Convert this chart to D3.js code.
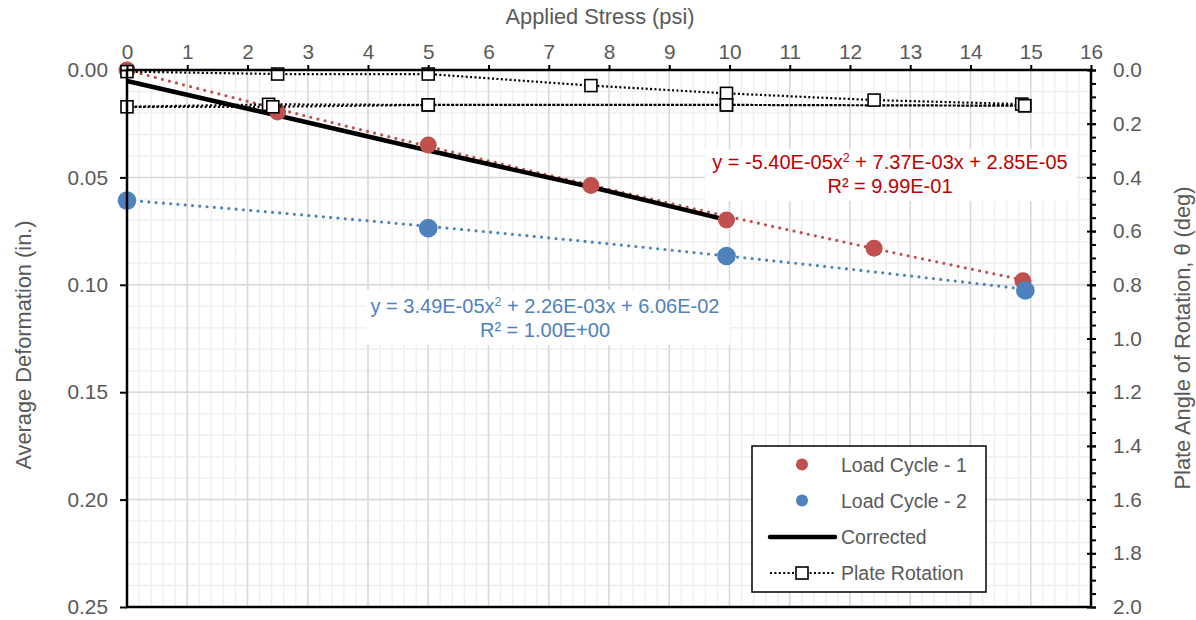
<!DOCTYPE html>
<html>
<head>
<meta charset="utf-8">
<script src="https://cdn.jsdelivr.net/npm/d3@7"></script>
<style>
  body { margin: 0; background: #fff; }
  text { font-family: "Liberation Sans", Arial, sans-serif; }
</style>
</head>
<body>
<div id="chart"></div>
<script>
// applied stress (psi) for each reading
const cycle1Stress = [0, 2.5, 5, 7.7, 9.95, 12.4, 14.87];
const cycle1Deform = [0.000, 0.0195, 0.0349, 0.0538, 0.0698, 0.0830, 0.0981];
const cycle2Stress = [0, 5, 9.95, 14.91];
const cycle2Deform = [0.0608, 0.0736, 0.0866, 0.1026];

const correctedStress = [0, 2.5, 5, 7.7, 9.95];
const correctedDeform = [0.0051, 0.0212, 0.0375, 0.0545, 0.0698];

// plate rotation (deg), loading path then unload / reload
const rotationStress = [0, 2.5, 5, 7.7, 9.95, 12.4, 14.85, 14.9, 9.95, 5, 2.35, 0, 2.42, 5, 9.95, 14.9];
const rotationDeg    = [0.006, 0.015, 0.015, 0.058, 0.087, 0.112, 0.127, 0.133, 0.130, 0.130, 0.128, 0.137, 0.137, 0.130, 0.130, 0.133];

// trendline coefficients shown on the chart (a x^2 + b x + c)
const trend1Coef = [-5.40e-05, 7.37e-03, 2.85e-05];
const trend2Coef = [3.49e-05, 2.26e-03, 6.06e-02];
const trendStress = d3.range(0, 15.01, 0.25);

const xTicks = d3.range(0, 17, 1);
const yTicks = [0, 0.05, 0.10, 0.15, 0.20, 0.25];
const y2Ticks = [0, 0.2, 0.4, 0.6, 0.8, 1.0, 1.2, 1.4, 1.6, 1.8, 2.0];

const legendItems = ['Load Cycle - 1', 'Load Cycle - 2', 'Corrected', 'Plate Rotation'];

const W = 1196, H = 620;
const margin = {top: 70, right: 105, bottom: 13, left: 127};
const width = W - margin.left - margin.right;
const height = H - margin.top - margin.bottom;

const red = '#C0504D', blue = '#4F81BD', grey = '#595959';
const fs = '19.5px';     // legend
const tickFs = '20.8px';
const titleFs = '21.8px';
const eqFs = '20px';

const svg = d3.select('#chart').append('svg')
    .attr('width', W)
    .attr('height', H);

const g = svg.append('g')
    .attr('transform', `translate(${margin.left},${margin.top})`);

const x = d3.scaleLinear().domain([0, 16]).range([0, width]);
const y = d3.scaleLinear().domain([0, 0.25]).range([0, height]);
const y2 = d3.scaleLinear().domain([0, 2]).range([0, height]);

// minor grid
g.append('g').selectAll('line')
  .data(d3.range(0, 16.001, 0.2))
  .join('line')
    .attr('x1', d => x(d)).attr('x2', d => x(d))
    .attr('y1', 0).attr('y2', height)
    .attr('stroke', '#f0f0f0').attr('stroke-width', 1.5);
g.append('g').selectAll('line')
  .data(d3.range(0, 0.2501, 0.01))
  .join('line')
    .attr('y1', d => y(d)).attr('y2', d => y(d))
    .attr('x1', 0).attr('x2', width)
    .attr('stroke', '#f0f0f0').attr('stroke-width', 1.5);
// major grid
g.append('g').selectAll('line')
  .data(xTicks)
  .join('line')
    .attr('x1', d => x(d)).attr('x2', d => x(d))
    .attr('y1', 0).attr('y2', height)
    .attr('stroke', '#d9d9d9').attr('stroke-width', 1.5);
g.append('g').selectAll('line')
  .data(yTicks)
  .join('line')
    .attr('y1', d => y(d)).attr('y2', d => y(d))
    .attr('x1', 0).attr('x2', width)
    .attr('stroke', '#d9d9d9').attr('stroke-width', 1.5);

const line = d3.line().x(d => x(d[0])).y(d => y(d[1]));
const quad = (c, v) => c[0] * v * v + c[1] * v + c[2];

// trendlines
g.append('path')
    .datum(trendStress.map(v => [v, quad(trend1Coef, v)]))
    .attr('d', line)
    .attr('fill', 'none').attr('stroke', red)
    .attr('stroke-width', 3.2).attr('stroke-linecap', 'round')
    .attr('stroke-dasharray', '0,7.3');
g.append('path')
    .datum(trendStress.map(v => [v, quad(trend2Coef, v)]))
    .attr('d', line)
    .attr('fill', 'none').attr('stroke', blue)
    .attr('stroke-width', 3.2).attr('stroke-linecap', 'round')
    .attr('stroke-dasharray', '0,7.3');

// corrected
g.append('path')
    .datum(correctedStress.map((v, i) => [v, correctedDeform[i]]))
    .attr('d', line)
    .attr('fill', 'none').attr('stroke', '#000')
    .attr('stroke-width', 4.5);

// load cycle markers
g.append('g').selectAll('circle')
  .data(cycle1Stress.map((v, i) => [v, cycle1Deform[i]]))
  .join('circle')
    .attr('cx', d => x(d[0])).attr('cy', d => y(d[1]))
    .attr('r', 8.5).attr('fill', red);
g.append('g').selectAll('circle')
  .data(cycle2Stress.map((v, i) => [v, cycle2Deform[i]]))
  .join('circle')
    .attr('cx', d => x(d[0])).attr('cy', d => y(d[1]))
    .attr('r', 9.3).attr('fill', blue);

// plate rotation
const rot = rotationStress.map((v, i) => [v, rotationDeg[i]]);
g.append('path')
    .datum(rot)
    .attr('d', d3.line().x(d => x(d[0])).y(d => y2(d[1])))
    .attr('fill', 'none').attr('stroke', '#000')
    .attr('stroke-width', 2.2).attr('stroke-dasharray', '2,2.4');
g.append('g').selectAll('rect')
  .data(rot)
  .join('rect')
    .attr('x', d => x(d[0]) - 6).attr('y', d => y2(d[1]) - 6)
    .attr('width', 12).attr('height', 12)
    .attr('fill', '#fff').attr('stroke', '#000').attr('stroke-width', 1.6);

// axes
const xAxis = g.append('g')
    .call(d3.axisTop(x).tickValues(xTicks).tickSize(5).tickPadding(6).tickFormat(d3.format('d')));
const yAxis = g.append('g')
    .call(d3.axisLeft(y).tickValues(yTicks).tickSize(7).tickPadding(12).tickFormat(d3.format('.2f')));
const y2Minor = g.append('g')
    .attr('transform', `translate(${width},0)`)
    .call(d3.axisRight(y2).tickValues(d3.range(0, 2.001, 0.05)).tickSize(5).tickFormat(''));
const y2Axis = g.append('g')
    .attr('transform', `translate(${width},0)`)
    .call(d3.axisRight(y2).tickValues(y2Ticks).tickSize(5).tickPadding(17).tickFormat(d3.format('.1f')));
y2Axis.selectAll('.tick line').attr('x1', -4);

[xAxis, yAxis, y2Minor, y2Axis].forEach(a => {
  a.select('.domain').remove();
  a.selectAll('.tick line').attr('stroke', '#000').attr('stroke-width', 2);
  a.selectAll('.tick text').attr('fill', grey).style('font-size', tickFs);
});

// frame
g.append('rect')
    .attr('width', width).attr('height', height)
    .attr('fill', 'none').attr('stroke', '#000').attr('stroke-width', 2.5);

// axis titles
svg.append('text')
    .attr('x', 600).attr('y', 24)
    .attr('text-anchor', 'middle').attr('fill', grey).style('font-size', titleFs)
    .text('Applied Stress (psi)');
svg.append('text')
    .attr('transform', 'translate(31,345) rotate(-90)')
    .attr('text-anchor', 'middle').attr('fill', grey).style('font-size', titleFs)
    .text('Average Deformation (in.)');
svg.append('text')
    .attr('transform', 'translate(1190,338) rotate(-90)')
    .attr('text-anchor', 'middle').attr('fill', grey).style('font-size', titleFs)
    .text('Plate Angle of Rotation, θ (deg)');

// trendline labels
function eqLabel(cx, cy, box, color, coef, r2) {
  svg.append('rect')
      .attr('x', box[0]).attr('y', box[1]).attr('width', box[2]).attr('height', box[3])
      .attr('fill', '#fff');
  const fmt = v => v.toExponential(2).toUpperCase().replace(/E([+-])(\d)$/, 'E$10$2');
  const t = svg.append('text')
      .attr('x', cx).attr('y', cy)
      .attr('text-anchor', 'middle').attr('fill', color).style('font-size', eqFs);
  t.append('tspan').text(`y = ${fmt(coef[0])}x`);
  t.append('tspan').attr('dy', -7).style('font-size', '12.5px').text('2');
  t.append('tspan').attr('dy', 7).text(` + ${fmt(coef[1])}x + ${fmt(coef[2])}`);
  svg.append('text')
      .attr('x', cx).attr('y', cy + 24)
      .attr('text-anchor', 'middle').attr('fill', color).style('font-size', eqFs)
      .text(`R² = ${r2}`);
}
eqLabel(890, 169, [705, 149, 372, 52], '#C00000', trend1Coef, '9.99E-01');
eqLabel(545, 313, [366, 290, 364, 55], blue, trend2Coef, '1.00E+00');

// legend
const lg = svg.append('g').attr('transform', 'translate(752,446)');
lg.append('rect')
    .attr('width', 234).attr('height', 146)
    .attr('fill', '#fff').attr('stroke', '#000').attr('stroke-width', 1.5);
const rows = lg.selectAll('g.row')
  .data(legendItems)
  .join('g')
    .attr('class', 'row')
    .attr('transform', (d, i) => `translate(0,${[18.5, 54.5, 91, 127][i]})`);
rows.append('text')
    .attr('x', 89).attr('y', 7)
    .attr('fill', grey).style('font-size', fs)
    .text(d => d);
rows.filter((d, i) => i < 2).append('circle')
    .attr('cx', 50).attr('r', 6)
    .attr('fill', (d, i) => i === 0 ? red : blue);
rows.filter((d, i) => i === 2).append('line')
    .attr('x1', 18).attr('x2', 83)
    .attr('stroke', '#000').attr('stroke-width', 4.5).attr('stroke-linecap', 'round');
const pr = rows.filter((d, i) => i === 3);
pr.append('line')
    .attr('x1', 18).attr('x2', 83)
    .attr('stroke', '#000').attr('stroke-width', 2.2).attr('stroke-dasharray', '2,2.4');
pr.append('rect')
    .attr('x', 44).attr('y', -6).attr('width', 12).attr('height', 12)
    .attr('fill', '#fff').attr('stroke', '#000').attr('stroke-width', 1.6);
</script>
</body>
</html>
